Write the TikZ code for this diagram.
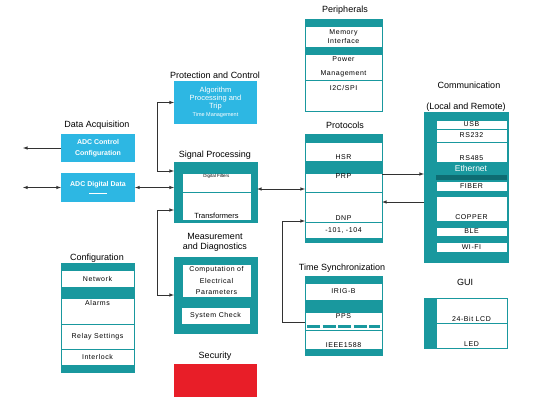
\documentclass[tikz,border=0pt]{standalone}
\usepackage{fontspec}
\setmainfont{Liberation Sans}
\newfontfamily\spacedfont[LetterSpace=8]{Liberation Sans}
\usetikzlibrary{fit}

\definecolor{tealc}{RGB}{25,152,158}
\definecolor{darkteal}{RGB}{14,108,114}
\definecolor{cyanc}{RGB}{45,183,227}
\definecolor{redc}{RGB}{232,30,40}
\definecolor{linec}{RGB}{50,50,50}

\def\panelfont{\spacedfont\fontsize{7}{8.5}\selectfont}

\tikzset{
	heading/.style={font=\fontsize{9}{10}\selectfont, inner sep=0pt, align=center},
	tealbox/.style={draw=tealc, fill=tealc, inner sep=0pt, outer sep=0pt},
	panel/.style={draw=tealc, fill=white, line width=0.6pt, inner sep=0pt, outer sep=0pt},
	ptext/.style={inner sep=1pt, align=center, font=\panelfont},
	intext/.style={label={[ptext]center:{#1}}},
	toptext/.style={label={[ptext, anchor=north, inner sep=2.5pt]north:{#1}}},
	bottext/.style={label={[ptext, anchor=south]south:{#1}}},
	bluebox/.style={fill=cyanc, inner sep=0pt, outer sep=0pt},
	bluetext/.style={text=white, inner sep=0pt, align=center},
	link/.style={draw=linec, line width=0.6pt, >=latex},
}

\begin{document}
\begin{tikzpicture}[x=1pt, y=-1pt]
		%%%%% START %%%%%
		\useasboundingbox (0,0) rectangle (536,405);
		
		% data acquisition
		\node[heading] (tacq) at (97,125) {Data Acquisition};
		\node[bluebox, fit={(61,134) (135,162)}, label={[bluetext, font=\fontsize{7}{8}\selectfont\bfseries]center:{ADC Control\\[3pt]Configuration}}] (adcc) {};
		\node[bluebox, fit={(61,173) (135,202)}, label={[bluetext, font=\fontsize{7}{8}\selectfont\bfseries]center:{ADC Digital Data\\[-1pt]\rule{17pt}{0.6pt}}}] (adcd) {};
		
		% protection and control
		\node[heading] (tprot) at (215,75) {Protection and Control};
		\node[bluebox, fit={(174,81) (257,124)}, label={[bluetext, font=\fontsize{7.5}{8}\selectfont]center:{Algorithm\\Processing and\\Trip\\{\fontsize{5.5}{7}\selectfont Time Management}}}] (algo) {};
		
		% signal processing
		\node[heading] (tsp) at (215,155) {Signal Processing};
		\node[tealbox, fit={(174,162) (257,222)}] (sp) {};
		\node[panel, fit={(182,173) (251,192)}, label={[inner sep=1.5pt, anchor=north, font=\fontsize{4.5}{5}\selectfont]north:Digital Filters}] (df) {};
		\node[panel, fit={(182,192) (251,220)}, label={[inner sep=1pt, anchor=south, font=\fontsize{7.5}{8}\selectfont]south:Transformers}] (trf) {};
		
		% measurement
		\node[heading] (tmeas) at (215,242) {Measurement\\and Diagnostics};
		\node[tealbox, fit={(174,257) (257,333)}] (meas) {};
		\node[panel, fit={(182,264) (251,297)}, intext={Computation of\\[3pt]Electrical\\[3pt]Parameters}] (comp) {};
		\node[panel, fit={(181,307) (250,324)}, intext={System Check}] (chk) {};
		
		% security
		\node[heading] (tsec) at (215,356) {Security};
		\node[fill=redc, inner sep=0pt, fit={(174,364) (257,397)}] (sec) {};
		
		% configuration
		\node[heading] (tcfg) at (97,258) {Configuration};
		\node[tealbox, fit={(61,263) (134,372)}] (cfg) {};
		\node[panel, fit={(61,270) (134,287)}, intext={Network}] (net) {};
		\node[panel, fit={(61,298) (134,324)}, toptext={Alarms}] (alm) {};
		\node[panel, fit={(61,324) (134,349)}, intext={Relay Settings}] (rly) {};
		\node[panel, fit={(61,349) (134,365)}, intext={Interlock}] (ilk) {};
		
		% peripherals
		\node[heading] (tperi) at (345,10) {Peripherals};
		\node[tealbox, fit={(305,19) (382,111)}] (peri) {};
		\node[panel, fit={(305,26) (382,47)}, intext={Memory\\Interface}] (mem) {};
		\node[panel, fit={(305,54) (382,80)}, intext={Power\\[5pt]Management}] (pwr) {};
		\node[panel, fit={(305,80) (382,111)}, label={[ptext, anchor=north, inner sep=5pt]north:I2C/SPI}] (i2c) {};
		
		% protocols
		\node[heading] (tproto) at (345,125) {Protocols};
		\node[tealbox, fit={(305,134) (382,242)}] (proto) {};
		\node[panel, fit={(305,142) (382,161)}, bottext={HSR}] (hsr) {};
		\node[panel, fit={(305,173) (382,192)}, label={[ptext, anchor=north, inner sep=0.5pt]north:PRP}] (prp) {};
		\node[panel, fit={(305,192) (382,222)}, bottext={DNP}] (dnp) {};
		\node[panel, fit={(305,222) (382,238)}, intext={-101, -104}] (iec) {};
		
		% time synchronization
		\node[heading] (tts) at (342,268) {Time Synchronization};
		\node[tealbox, fit={(305,276) (382,355)}] (ts) {};
		\node[panel, fit={(305,283) (382,300)}, intext={IRIG-B}] (irig) {};
		\node[panel, fit={(305,312) (382,330)}, label={[ptext, anchor=north, inner sep=1.5pt]north:PPS}] (pps) {};
		\node[panel, fit={(305,330) (382,349)}, bottext={IEEE1588}] (ieee) {};
		\draw[tealc, line width=3.5pt, dash pattern=on 13pt off 2.5pt] (307,326.5) -- (380,326.5);
		
		% communication
		\node[heading] (tcomm) at (469,85) {Communication};
		\node[heading] (tlr) at (466,107) {(Local and Remote)};
		\node[tealbox, fit={(424,112) (508,262)}] (comm) {};
		\node[panel, fit={(436,120) (507,129)}, intext={USB}] (usb) {};
		\node[panel, fit={(436,129) (507,142)}, intext={RS232}] (rsa) {};
		\node[panel, fit={(436,142) (507,162)}, bottext={RS485}] (rsb) {};
		\node[text=white, inner sep=0pt, font=\fontsize{8.5}{9}\selectfont] (eth) at (471,168.5) {Ethernet};
		\fill[darkteal] (436,175) rectangle (507,180);
		\node[panel, fit={(436,181) (507,191)}, intext={FIBER}] (fib) {};
		\node[panel, fit={(436,196) (507,221)}, bottext={COPPER}] (cop) {};
		\node[panel, fit={(436,227) (507,236)}, intext={BLE}] (ble) {};
		\node[panel, fit={(436,242) (507,252)}, intext={WI-FI}] (wifi) {};
		
		% gui
		\node[heading] (tgui) at (465,282) {GUI};
		\node[tealbox, fit={(424,298) (507,348)}] (gui) {};
		\node[panel, fit={(436,298) (507,323)}, bottext={24-Bit LCD}] (lcd) {};
		\node[panel, fit={(436,323) (507,348)}, bottext={LED}] (led) {};
		
		% connectors
		\coordinate (outa) at (23,148);
		\coordinate (outb) at (23,187.5);
		\coordinate (ja) at (157,171);
		\coordinate (jb) at (157,210);
		\coordinate (jc) at (282,221);
		
		\draw[link, ->] (adcc.west) -- (outa);
		\draw[link, <->] (outb) -- (adcd.west);
		\draw[link, <->] (adcd.east) -- (adcd.east -| sp.west);
		\draw[link, <->] (algo.west) -| (ja) -- (ja -| sp.west);
		\draw[link, <->] (jb -| sp.west) -- (jb) |- (meas.west);
		\draw[link, <->] ([yshift=3pt]sp.east) -- ([yshift=3pt]sp.east -| proto.west);
		\draw[link, ->] ([yshift=14pt]proto.east) -- ([yshift=14pt]proto.east -| comm.west);
		\draw[link, ->] ([yshift=-15pt]comm.west) -- ([yshift=-15pt]comm.west -| proto.east);
		\draw[link, ->] ([yshift=-7pt]ts.west) -| (jc) -- (jc -| proto.west);
		
		%%%%% END %%%%%
\end{tikzpicture}
\end{document}
